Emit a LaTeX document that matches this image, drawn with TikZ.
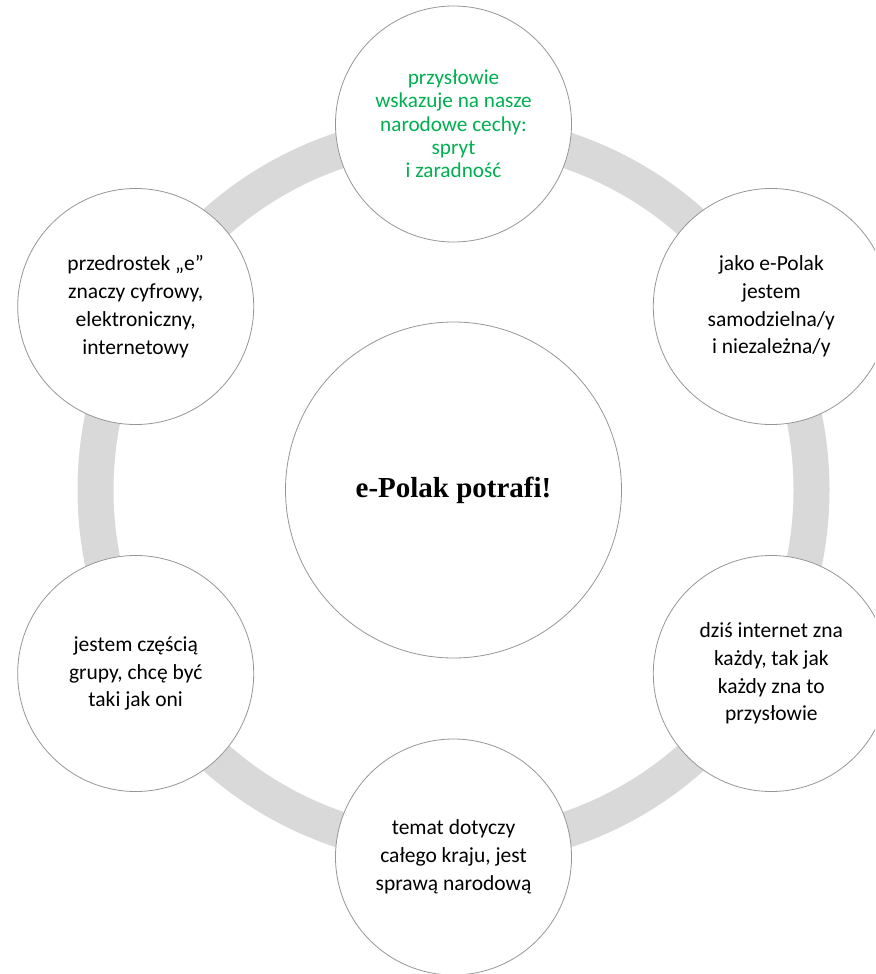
\documentclass[tikz,border=0pt]{standalone}
\usepackage{fontspec}
\setmainfont{Carlito}
\newfontfamily\titlefont{Liberation Serif}
\definecolor{ringgray}{RGB}{217,217,217}
\definecolor{edgegray}{RGB}{150,150,150}
\definecolor{proverbgreen}{RGB}{0,176,80}
\begin{document}
\begin{tikzpicture}[x=1pt,y=-1pt,
  bubble/.style={circle, draw=edgegray, line width=0.8pt, fill=white,
    minimum size=236pt, inner sep=0pt, align=center,
    font=\fontsize{21.5}{27.8}\selectfont},
  corebubble/.style={bubble, minimum size=336pt,
    font=\titlefont\bfseries\fontsize{29}{34}\selectfont}]
\useasboundingbox (0,0) rectangle (875,974);
\clip (0,0) rectangle (875,974);
\coordinate (hub) at (453.5,490);
% grey ring linking the outer bubbles
\draw[ringgray, line width=36pt] (hub) circle[radius=358pt];
% central idea
\node[corebubble] (core) at (hub) {e-Polak potrafi!};
% outer bubbles, clockwise from the top
\node[bubble, text=proverbgreen, font=\fontsize{21.2}{23.3}\selectfont] (top) at (453.5,124)
  {przysłowie\\wskazuje na nasze\\narodowe cechy:\\spryt\\i zaradność};
\node[bubble] (upright) at (771.3,306.5)
  {jako e-Polak\\jestem\\samodzielna/y\\i niezależna/y};
\node[bubble] (lowright) at (771.3,673.5)
  {dziś internet zna\\każdy, tak jak\\każdy zna to\\przysłowie};
\node[bubble] (bottom) at (453.5,857)
  {temat dotyczy\\całego kraju, jest\\sprawą narodową};
\node[bubble] (lowleft) at (135.7,673.5)
  {jestem częścią\\grupy, chcę być\\taki jak oni};
\node[bubble] (upleft) at (135.7,306.5)
  {przedrostek „e”\\znaczy cyfrowy,\\elektroniczny,\\internetowy};
\end{tikzpicture}
\end{document}
